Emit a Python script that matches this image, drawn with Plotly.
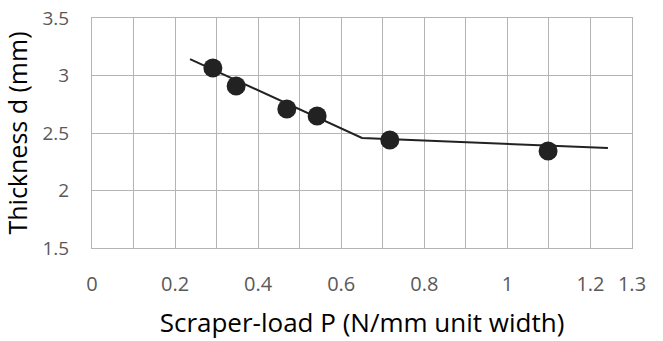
import plotly.graph_objects as go

# measured points
load_p = [0.291, 0.347, 0.469, 0.542, 0.717, 1.098]
thickness_d = [3.065, 2.909, 2.709, 2.648, 2.439, 2.343]

# fitted trend line (piecewise)
fit_p = [0.236, 0.65, 1.242]
fit_d = [3.143, 2.457, 2.370]

x_tickvals = [0, 0.1, 0.2, 0.3, 0.4, 0.5, 0.6, 0.7, 0.8, 0.9, 1.0, 1.1, 1.2, 1.3]
x_ticktext = ["0", "", "0.2", "", "0.4", "", "0.6", "", "0.8", "", "1", "", "1.2", "1.3"]
y_tickvals = [1.5, 2, 2.5, 3, 3.5]
y_ticktext = ["1.5", "2", "2.5", "3", "3.5"]

fig = go.Figure()
fig.add_trace(go.Scatter(x=fit_p, y=fit_d, mode="lines",
                         line=dict(color="#222222", width=2), showlegend=False))
fig.add_trace(go.Scatter(x=load_p, y=thickness_d, mode="markers",
                         marker=dict(color="#222222", size=19), showlegend=False))

grid = "#b4b4b4"
fig.update_layout(
    width=663, height=341,
    margin=dict(l=92, r=31, t=18, b=93),
    paper_bgcolor="white", plot_bgcolor="white",
    font=dict(family="Open Sans", color="#595959"),
    xaxis=dict(range=[0, 1.3], tickvals=x_tickvals, ticktext=x_ticktext,
               showgrid=True, gridcolor=grid, gridwidth=1, automargin=False,
               showline=True, linecolor=grid, mirror=True, zeroline=False,
               ticks="", ticklabelstandoff=18, tickfont=dict(size=20, color="#595959"),
               title=dict(text="Scraper-load P (N/mm unit width)", font=dict(size=26, color="#000000"),
                          standoff=17)),
    yaxis=dict(range=[1.5, 3.5], tickvals=y_tickvals, ticktext=y_ticktext,
               showgrid=True, gridcolor=grid, gridwidth=1, automargin=False,
               showline=True, linecolor=grid, mirror=True, zeroline=False,
               ticks="", ticklabelstandoff=18, tickfont=dict(size=19, color="#595959"),
               title=dict(text="Thickness d (mm)", font=dict(size=25, color="#000000"),
                          standoff=8)),
)
fig.write_html("out.html", config={"displayModeBar": False},
               post_script="document.body.style.margin='0';")
